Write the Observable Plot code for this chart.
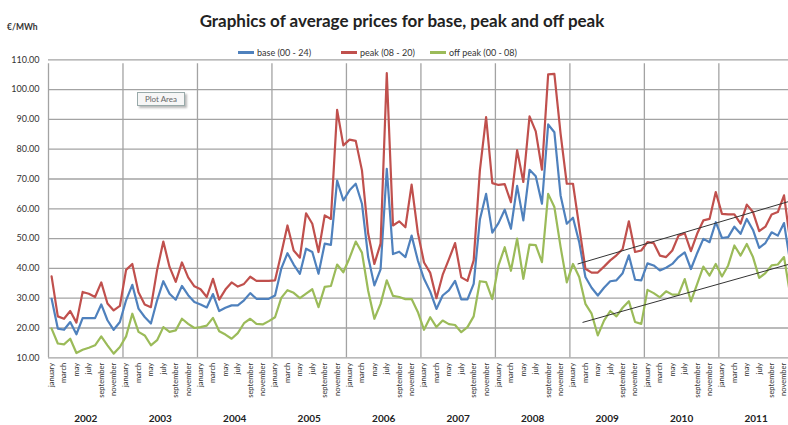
<!DOCTYPE html>
<html>
<head>
<meta charset="utf-8">
<script src="https://cdn.jsdelivr.net/npm/d3@7"></script>
<script src="https://cdn.jsdelivr.net/npm/@observablehq/plot@0.6"></script>
<style>
  html, body { margin: 0; padding: 0; background: #fff; }
  #wrap { position: relative; width: 788px; height: 425px; overflow: hidden; font-family: Lato, "Liberation Sans", sans-serif; }
  #chart { position: absolute; left: 0; top: 0; }
  .title { position: absolute; left: 0; width: 804px; top: 10px; text-align: center; font-weight: bold; font-size: 17px; color: #222; }
  .unit { position: absolute; left: 7px; top: 22px; font-size: 8.5px; font-weight: bold; color: #333; }
  .legend { position: absolute; top: 47px; left: 0; width: 788px; font-size: 9px; color: #333; }
  .legend span.item { position: absolute; white-space: nowrap; }
  .legend span.sw { display: inline-block; width: 16px; height: 2.5px; vertical-align: middle; margin-right: 3px; position: relative; top: -1px; }
  .plotarea { position: absolute; left: 137px; top: 92px; width: 46px; height: 12px; border: 1px solid #9aa; background: #f6f6f6; font-size: 8px; color: #666; text-align: center; line-height: 12px; box-shadow: 2px 2px 2px #bbb; }
</style>
</head>
<body>
<div id="wrap">
  <div id="chart"></div>
  <div class="title">Graphics of average prices for base, peak and off peak</div>
  <div class="unit">€/MWh</div>
  <div class="legend" id="legend"></div>
  <div class="plotarea">Plot Area</div>
</div>
<script>
// ---- data ----
const years = [2002, 2003, 2004, 2005, 2006, 2007, 2008, 2009, 2010, 2011];
const monthNames = ["january", "february", "march", "april", "may", "june", "july", "august", "september", "october", "november", "december"];
const labeledMonths = ["january", "march", "may", "july", "september", "november"];
const yTicks = [10, 20, 30, 40, 50, 60, 70, 80, 90, 100, 110];
const seriesNames = ["base (00 - 24)", "peak (08 - 20)", "off peak (00 - 08)"];
const seriesColors = ["#4F81BD", "#C0504D", "#9BBB59"];

// monthly averages, January 2002 - December 2011 (€/MWh)
const base = [
  29.8, 19.8, 19.4, 22.0, 17.9, 23.3, 23.3, 23.3, 27.9, 22.6, 19.4, 22.0,
  29.3, 34.5, 26.5, 23.7, 21.5, 29.3, 35.7, 31.5, 29.5, 34.1, 31.0, 28.7,
  27.9, 26.9, 31.4, 25.7, 26.8, 27.6, 27.6, 29.3, 31.7, 29.8, 29.8, 29.8,
  30.9, 39.9, 45.1, 41.3, 38.2, 46.6, 45.5, 38.2, 48.3, 47.9, 69.5, 62.8,
  66.2, 68.4, 61.7, 43.8, 34.3, 39.7, 73.4, 44.8, 45.6, 43.8, 51.0, 42.7,
  36.5, 32.2, 26.4, 30.9, 32.6, 35.8, 29.6, 29.6, 34.8, 56.4, 65.0, 52.0,
  55.2, 59.7, 53.3, 67.7, 56.1, 73.1, 70.9, 61.7, 88.3, 85.7, 64.5, 55.0,
  57.0, 48.8, 37.1, 33.5, 30.9, 33.5, 35.7, 36.0, 38.4, 44.4, 36.2, 36.0,
  41.7, 41.0, 39.3, 40.2, 41.5, 43.8, 45.4, 39.8, 45.1, 49.9, 48.8, 55.5,
  50.2, 50.5, 54.0, 51.6, 56.6, 52.9, 46.9, 48.5, 52.1, 51.0, 55.2, 42.0
];
const peak = [
  37.3, 23.9, 23.1, 25.7, 21.8, 32.1, 31.5, 30.4, 35.3, 28.2, 25.9, 27.4,
  39.5, 41.5, 32.0, 27.9, 27.0, 39.5, 49.0, 40.5, 35.5, 42.0, 37.0, 34.0,
  33.0, 30.4, 36.5, 29.5, 32.9, 35.3, 33.9, 34.8, 37.2, 35.8, 35.8, 35.8,
  36.0, 45.0, 54.4, 46.0, 43.6, 58.5, 55.0, 45.5, 57.8, 56.6, 93.2, 81.3,
  83.2, 82.8, 72.9, 51.7, 41.5, 48.3, 105.5, 54.4, 55.8, 53.8, 68.1, 52.0,
  42.0, 38.5, 30.0, 37.8, 43.0, 48.5, 37.0, 35.8, 42.7, 72.9, 90.8, 68.6,
  68.0, 68.3, 62.2, 79.7, 69.0, 91.0, 86.0, 73.1, 105.1, 105.3, 85.2, 68.4,
  68.4, 54.0, 39.9, 38.6, 38.6, 40.6, 42.7, 44.4, 46.5, 55.8, 45.5, 46.0,
  48.8, 48.5, 44.3, 43.8, 46.0, 51.0, 51.8, 45.8, 51.6, 56.1, 56.6, 65.6,
  58.3, 58.1, 58.1, 55.0, 61.4, 58.9, 52.5, 54.0, 58.1, 58.9, 64.5, 49.0
];
const offPeak = [
  19.8, 14.8, 14.5, 16.4, 11.6, 12.7, 13.4, 14.2, 17.2, 14.2, 11.4, 13.6,
  17.2, 24.8, 18.7, 17.5, 14.2, 15.9, 20.3, 18.7, 19.2, 23.1, 21.4, 20.0,
  20.3, 20.8, 23.4, 18.9, 17.8, 16.4, 18.3, 21.6, 23.1, 21.4, 21.2, 22.3,
  23.6, 30.1, 32.7, 31.8, 30.0, 31.5, 33.0, 27.0, 33.8, 34.1, 41.3, 38.7,
  43.5, 49.0, 45.3, 32.5, 23.1, 28.1, 36.0, 30.8, 30.4, 29.7, 29.7, 25.4,
  19.4, 23.6, 20.3, 22.5, 21.3, 21.0, 18.6, 20.3, 23.9, 35.7, 35.4, 29.7,
  41.0, 47.1, 39.2, 50.0, 36.5, 48.0, 47.8, 42.1, 65.0, 60.6, 47.2, 35.3,
  41.5, 37.1, 28.1, 24.8, 17.5, 22.5, 25.7, 23.9, 26.8, 29.0, 22.0, 21.4,
  32.8, 31.7, 30.3, 32.3, 31.2, 31.2, 36.4, 28.9, 34.7, 40.6, 37.6, 41.5,
  37.3, 41.0, 47.7, 44.3, 48.2, 43.8, 36.8, 38.4, 41.0, 41.3, 43.8, 31.0
];
// hand-drawn trend lines: [month index, value] at both ends
const trendUpper = [[84.8, 41.5], [119.5, 62.9]];
const trendLower = [[85.6, 21.9], [119.5, 41.8]];

// ---- build tables ----
const seriesValues = [base, peak, offPeak];
const lineData = seriesValues.flatMap((vals, s) =>
  vals.map((v, i) => ({ series: seriesNames[s], i, v })));
const monthLabels = years.flatMap((y, k) =>
  monthNames.map((m, j) => ({ i: k * 12 + j, name: m })).filter(d => labeledMonths.includes(d.name)));
const yearLabels = years.map((y, k) => ({ i: k * 12 + 5.5, year: String(y) }));
const yearBounds = years.map((y, k) => k * 12 - 0.5);
const trends = [
  ...trendUpper.map(([i, v]) => ({ g: "upper", i, v })),
  ...trendLower.map(([i, v]) => ({ g: "lower", i, v }))
];

const chart = Plot.plot({
  width: 788,
  height: 425,
  marginLeft: 48,
  marginRight: 0,
  marginTop: 59.3,
  marginBottom: 67.7,
  style: { fontFamily: "Lato, 'Liberation Sans', sans-serif", background: "transparent" },
  x: { domain: [-0.5, 118.72], axis: null },
  y: { domain: [10, 110], axis: null },
  color: { domain: seriesNames, range: seriesColors },
  marks: [
    Plot.ruleY(yTicks, { stroke: "#a3a3a3", strokeWidth: 1.3 }),
    Plot.ruleX(yearBounds, { stroke: "#a3a3a3", strokeWidth: 1.3, y1: 10, y2: 110, insetBottom: -4 }),
    Plot.axisY(yTicks, { tickSize: 0, tickPadding: 9, tickFormat: d => d.toFixed(2), fontSize: 9, fill: "#333", label: null }),
    Plot.line(lineData, { x: "i", y: "v", z: "series", stroke: "series", strokeWidth: 2.2, clip: true }),
    Plot.line(trends, { x: "i", y: "v", z: "g", stroke: "#333", strokeWidth: 1, clip: true }),
    Plot.text(monthLabels, { x: "i", y: 10, text: "name", rotate: -90, textAnchor: "end", dy: 5, fontSize: 7.5, fill: "#333" }),
    Plot.text(yearLabels, { x: "i", y: 10, text: "year", dy: 61, fontSize: 10, fontWeight: "bold", fill: "#222" })
  ]
});
document.getElementById("chart").appendChild(chart);

// legend
const legendX = [238, 341, 430];
const legend = document.getElementById("legend");
seriesNames.forEach((name, s) => {
  const item = document.createElement("span");
  item.className = "item";
  item.style.left = legendX[s] + "px";
  const sw = document.createElement("span");
  sw.className = "sw";
  sw.style.background = seriesColors[s];
  item.appendChild(sw);
  item.appendChild(document.createTextNode(name));
  legend.appendChild(item);
});
</script>
</body>
</html>
